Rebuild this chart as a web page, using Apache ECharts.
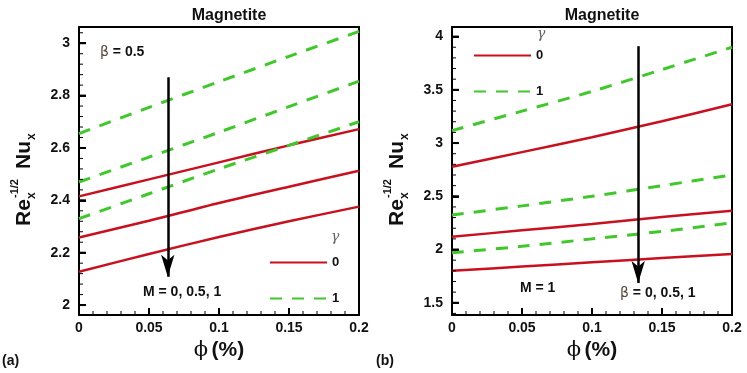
<!DOCTYPE html>
<html>
<head>
<meta charset="utf-8">
<script src="https://cdn.jsdelivr.net/npm/echarts@6/dist/echarts.min.js"></script>
<style>
  html, body { margin: 0; padding: 0; background: #fff; }
  #chart { width: 747px; height: 373px; }
</style>
</head>
<body>
<div id="chart"></div>
<script>
// phi (%) sample points
const phi = [0, 0.05, 0.1, 0.15, 0.2]

// (a) beta = 0.5, M = 0, 0.5, 1
const aRed = [
  [2.415, 2.48, 2.545, 2.61, 2.672],
  [2.258, 2.322, 2.39, 2.452, 2.513],
  [2.127, 2.195, 2.26, 2.32, 2.376]
]
const aGreen = [
  [2.655, 2.755, 2.853, 2.95, 3.045],
  [2.47, 2.565, 2.66, 2.758, 2.855],
  [2.33, 2.425, 2.52, 2.61, 2.7]
]

// (b) M = 1, beta = 0, 0.5, 1
const bRed = [
  [2.778, 2.915, 3.055, 3.205, 3.365],
  [2.12, 2.18, 2.24, 2.305, 2.365],
  [1.8, 1.84, 1.88, 1.92, 1.958]
]
const bGreen = [
  [3.117, 3.3, 3.485, 3.69, 3.9],
  [2.324, 2.41, 2.5, 2.6, 2.7],
  [1.97, 2.03, 2.1, 2.17, 2.25]
]

// arrows: [phi, from, to]
const arrowA = [0.0634, 2.87, 2.108]
const arrowB = [0.133, 3.91, 1.685]

// tick labels
const xTicks = [0, 0.05, 0.1, 0.15, 0.2]
const yTicksA = [2, 2.2, 2.4, 2.6, 2.8, 3]
const yTicksB = [1.5, 2, 2.5, 3, 3.5, 4]
const yRangeA = [1.962, 3.062]
const yRangeB = [1.385, 4.09]

const RED = '#c8101e'
const GREEN = '#3fc82a'
const FONT = "'Liberation Sans', Arial, sans-serif"

const stepTicks = (range, step) => {
  const out = []
  const start = Math.ceil(range[0] / step - 1e-6)
  for (let i = start; i * step <= range[1] + 1e-9; i++) out.push(+(i * step).toFixed(4))
  return out
}

const chart = echarts.init(document.getElementById('chart'))

const gridA = { left: 79, top: 27, width: 280, height: 288 }
const gridB = { left: 452, top: 27, width: 280, height: 288 }

const boxLine = () => ({ show: true, lineStyle: { color: '#000', width: 2 } })

// tick drawn as a small black box label sitting inside the plot
const tickBox = (w, h, values) => ({
  show: true,
  inside: true,
  margin: 0,
  customValues: values,
  formatter: () => '{t| }',
  rich: { t: { width: w, height: h, lineHeight: h, fontSize: 1, padding: 0, backgroundColor: '#000' } }
})

const hidden = { show: false }

// bottom axis with labels and name
const makeX = (gridIndex) => ({
  type: 'value',
  gridIndex,
  min: 0,
  max: 0.2,
  interval: 0.05,
  position: 'bottom',
  name: '{p|ϕ} {b|(%)}',
  nameLocation: 'middle',
  nameGap: 24,
  nameTextStyle: {
    rich: {
      p: { fontFamily: 'DejaVu Serif', fontSize: 21, color: '#111' },
      b: { fontFamily: FONT, fontSize: 21, fontWeight: 'bold', color: '#111' }
    }
  },
  axisLine: boxLine(),
  axisTick: { show: true, inside: true, length: 7, lineStyle: { color: '#000', width: 2 } },
  axisLabel: { margin: 6, color: '#111', fontFamily: FONT, fontSize: 14, fontWeight: 'bold', customValues: xTicks },
  splitLine: hidden
})

// bottom tick marks (major / minor)
const makeTickX = (gridIndex, values, w, h) => ({
  type: 'value', gridIndex, min: 0, max: 0.2, position: 'bottom', z: 10,
  axisLine: hidden, axisTick: hidden, splitLine: hidden,
  axisLabel: tickBox(w, h, values)
})

// top border
const makeTopX = (gridIndex) => ({
  type: 'value', gridIndex, min: 0, max: 0.2, position: 'top',
  axisLine: { ...boxLine(), onZero: false }, axisTick: hidden, axisLabel: hidden, splitLine: hidden
})

const makeY = (gridIndex, range, ticks) => ({
  type: 'value',
  gridIndex,
  min: range[0],
  max: range[1],
  position: 'left',
  axisLine: boxLine(),
  axisTick: { show: true, inside: true, length: 7, customValues: ticks, lineStyle: { color: '#000', width: 2 } },
  axisLabel: {
    margin: 9, color: '#111', fontFamily: FONT, fontSize: 14, fontWeight: 'bold',
    customValues: ticks
  },
  splitLine: hidden
})

// left tick marks (major / minor)
const makeTickY = (gridIndex, range, values, w, h) => ({
  type: 'value', gridIndex, min: range[0], max: range[1], position: 'left', z: 10,
  axisLine: hidden, axisTick: hidden, splitLine: hidden,
  axisLabel: tickBox(w, h, values)
})

// right border
const makeRightY = (gridIndex, range) => ({
  type: 'value', gridIndex, min: range[0], max: range[1], position: 'right',
  axisLine: { ...boxLine(), onZero: false }, axisTick: hidden, axisLabel: hidden, splitLine: hidden
})

const arrowMark = (arrow) => ({
  silent: true,
  animation: false,
  symbol: ['none', 'arrow'],
  symbolSize: [10, 22],
  label: hidden,
  lineStyle: { color: '#000', width: 2.5, type: 'solid' },
  data: [[{ coord: [arrow[0], arrow[1]] }, { coord: [arrow[0], arrow[2]] }]]
})

const lineSeries = (name, values, idx, color, dashed, arrow) => ({
  name,
  type: 'line',
  xAxisIndex: idx * 4,
  yAxisIndex: idx * 4,
  data: phi.map((p, i) => [p, values[i]]),
  showSymbol: false,
  symbol: 'none',
  smooth: 0.3,
  lineStyle: { color, width: dashed ? 3 : 2.5, type: dashed ? [12, 10] : 'solid' },
  itemStyle: { color },
  markLine: arrow ? arrowMark(arrow) : undefined
})

const series = []
aRed.forEach((v, i) => series.push(lineSeries('0', v, 0, RED, false, i === 0 ? arrowA : null)))
aGreen.forEach(v => series.push(lineSeries('1', v, 0, GREEN, true)))
bRed.forEach((v, i) => series.push(lineSeries('0', v, 1, RED, false, i === 0 ? arrowB : null)))
bGreen.forEach(v => series.push(lineSeries('1', v, 1, GREEN, true)))

const legendBase = {
  orient: 'vertical',
  data: ['0', '1'],
  padding: 0,
  itemWidth: 57,
  itemHeight: 14,
  itemGap: 23,
  selectedMode: false,
  itemStyle: { opacity: 0 },
  textStyle: { color: '#111', fontFamily: FONT, fontSize: 13, fontWeight: 'bold' }
}

// rotated y axis title: Re_x^-1/2 Nu_x
const yTitle = (x) => ({
  type: 'group',
  x,
  y: 226,
  rotation: Math.PI / 2,
  children: [
    { type: 'text', x: 0, y: 0, style: { text: 'Re', font: `bold 21px ${FONT}`, fill: '#111', verticalAlign: 'middle' } },
    { type: 'text', x: 28, y: -9, style: { text: '-1/2', font: `bold 11px ${FONT}`, fill: '#111', verticalAlign: 'middle' } },
    { type: 'text', x: 27, y: 8, style: { text: 'x', font: `bold 12px ${FONT}`, fill: '#111', verticalAlign: 'middle' } },
    { type: 'text', x: 57, y: 0, style: { text: 'Nu', font: `bold 21px ${FONT}`, fill: '#111', verticalAlign: 'middle' } },
    { type: 'text', x: 86, y: 8, style: { text: 'x', font: `bold 12px ${FONT}`, fill: '#111', verticalAlign: 'middle' } }
  ]
})

const txt = (x, y, text, rich) => ({
  type: 'text', x, y,
  style: {
    text, fill: '#111', font: `bold 14px ${FONT}`, verticalAlign: 'middle',
    rich: rich || {}
  }
})

const betaRich = {
  g: { fontFamily: 'DejaVu Sans', fontSize: 14, fontWeight: 'normal', fill: '#5a4a3a' },
  b: { fontFamily: FONT, fontSize: 14, fontWeight: 'bold', fill: '#111' }
}
const gammaStyle = { fill: '#666', font: `italic 14px 'DejaVu Serif'`, verticalAlign: 'middle' }

const xMinor = stepTicks([0, 0.2], 0.01)

const option = {
  animation: false,
  title: [
    { text: 'Magnetite', left: 224, top: 3, textAlign: 'center', textStyle: { fontFamily: FONT, fontSize: 16, fontWeight: 'bold', color: '#111' } },
    { text: 'Magnetite', left: 597, top: 3, textAlign: 'center', textStyle: { fontFamily: FONT, fontSize: 16, fontWeight: 'bold', color: '#111' } }
  ],
  grid: [gridA, gridB],
  xAxis: [
    makeX(0), makeTopX(0), makeTickX(0, xTicks, 2, 7), makeTickX(0, xMinor, 1, 4),
    makeX(1), makeTopX(1), makeTickX(1, xTicks, 2, 7), makeTickX(1, xMinor, 1, 4)
  ],
  yAxis: [
    makeY(0, yRangeA, yTicksA), makeRightY(0, yRangeA),
    makeTickY(0, yRangeA, yTicksA, 7, 2), makeTickY(0, yRangeA, stepTicks(yRangeA, 0.04), 4, 1),
    makeY(1, yRangeB, yTicksB), makeRightY(1, yRangeB),
    makeTickY(1, yRangeB, yTicksB, 7, 2), makeTickY(1, yRangeB, stepTicks(yRangeB, 0.1), 4, 1)
  ],
  legend: [
    { ...legendBase, left: 269, top: 256 },
    { ...legendBase, left: 473, top: 49 }
  ],
  series,
  graphic: [
    yTitle(24),
    yTitle(397),
    { type: 'text', x: 2, y: 361, style: { text: '(a)', font: `bold 14px ${FONT}`, fill: '#111', verticalAlign: 'middle' } },
    { type: 'text', x: 376, y: 361, style: { text: '(b)', font: `bold 14px ${FONT}`, fill: '#111', verticalAlign: 'middle' } },
    txt(100, 52, '{g|β}{b| = 0.5}', betaRich),
    txt(143, 292, 'M = 0, 0.5, 1'),
    { type: 'text', x: 331, y: 237, style: { text: 'γ', ...gammaStyle } },
    txt(520, 288, 'M = 1'),
    txt(620, 293, '{g|β}{b| = 0, 0.5, 1}', betaRich),
    { type: 'text', x: 537, y: 34, style: { text: 'γ', ...gammaStyle } }
  ]
}

chart.setOption(option)
</script>
</body>
</html>
